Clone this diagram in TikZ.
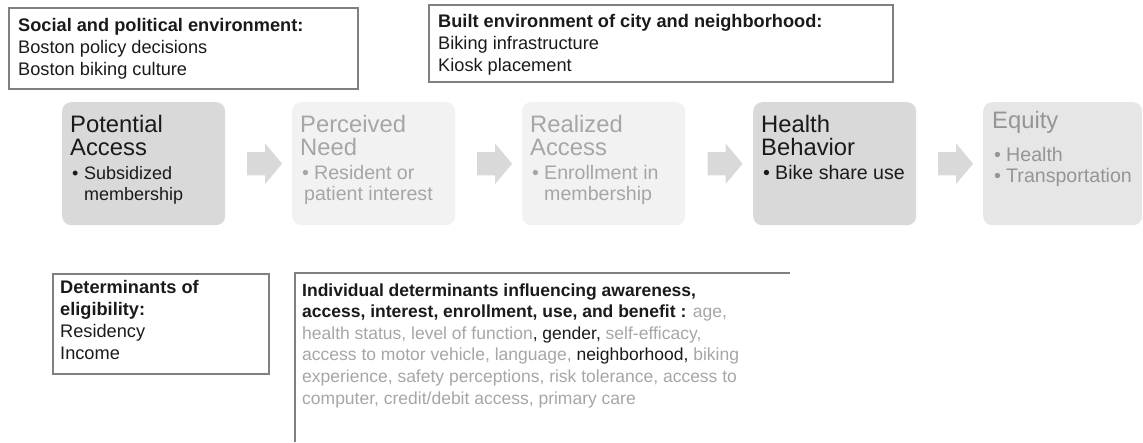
\documentclass[tikz,border=0pt]{standalone}
\usepackage{fontspec}
\setmainfont{Liberation Sans}
\usetikzlibrary{shapes.arrows,calc}
\definecolor{bord}{HTML}{808080}
\definecolor{darkfill}{HTML}{D9D9D9}
\definecolor{lightfill}{HTML}{F2F2F2}
\definecolor{eqfill}{HTML}{E6E6E6}
\definecolor{lighttext}{HTML}{A6A6A6}
\definecolor{eqtext}{HTML}{959595}
\definecolor{arrowfill}{HTML}{D9D9D9}
\definecolor{darktext}{HTML}{1A1A1A}
\newcommand\bitem[1]{\makebox[12pt][l]{\textbullet}#1}
\newcommand\bcont[1]{\hspace*{12pt}#1}
\newcommand\stacklines[1]{\vtop{\let\\\cr\halign{##\hfil\cr#1\crcr}}}
\tikzset{
  infobox/.style={draw=bord, line width=1.5pt, anchor=north west, inner sep=0pt},
  infotext/.style={anchor=base west, inner sep=0pt, text=darktext,
    font={\fontsize{18.2}{22}\selectfont}},
  stagebox/.style={rounded corners=9pt, minimum width=163pt, minimum height=123pt,
    anchor=north west, inner sep=0pt, draw=none},
  stagetitle/.style={anchor=base west, inner sep=0pt,
    font={\fontsize{23.8}{23.5}\selectfont}},
  stagebullet/.style={anchor=base west, inner sep=0pt,
    font={\fontsize{19.6}{21.5}\selectfont}},
  flowarrow/.style={single arrow, fill=arrowfill, draw=none, inner sep=0pt,
    text height=23pt, text depth=0pt, text width=0pt,
    minimum height=35pt, single arrow head extend=8.5pt,
    single arrow tip angle=100},
}
\begin{document}
\begin{tikzpicture}[x=1pt,y=-1pt]
\useasboundingbox (0,0) rectangle (1143,442);

% top information boxes
\node[infobox, minimum width=349pt, minimum height=81pt] (soc) at (8,7) {};
\node[infotext] (soctext) at ($(soc.north west)+(10,24)$)
  {\stacklines{\textbf{Social and political environment:}\\Boston policy decisions\\Boston biking culture}};
\node[infobox, minimum width=464pt, minimum height=77pt] (built) at (428,4) {};
\node[infotext] (builttext) at ($(built.north west)+(10,23)$)
  {\stacklines{\textbf{Built environment of city and neighborhood:}\\Biking infrastructure\\Kiosk placement}};

% stage boxes
\node[stagebox, fill=darkfill] (pa) at (62,102) {};
\node[stagebox, fill=lightfill] (pn) at (292,102) {};
\node[stagebox, fill=lightfill] (pr) at (522,102) {};
\node[stagebox, fill=darkfill] (hb) at (753,102) {};
\node[stagebox, fill=eqfill, minimum width=159pt] (eq) at (983,102) {};

\node[stagetitle, text=darktext] (pat) at ($(pa.north west)+(8,30)$) {\stacklines{Potential\\Access}};
\node[stagebullet, text=darktext, font={\fontsize{18}{21.5}\selectfont}] (pab) at ($(pa.north west)+(10,77)$) {\stacklines{\bitem{Subsidized}\\\bcont{membership}}};
\node[stagetitle, text=lighttext] (pnt) at ($(pn.north west)+(8,30)$) {\stacklines{Perceived\\Need}};
\node[stagebullet, text=lighttext] (pnb) at ($(pn.north west)+(10,77)$) {\stacklines{\bitem{Resident or}\\\hspace*{2pt}patient interest}};
\node[stagetitle, text=lighttext] (prt) at ($(pr.north west)+(8,30)$) {\stacklines{Realized\\Access}};
\node[stagebullet, text=lighttext] (prb) at ($(pr.north west)+(10,77)$) {\stacklines{\bitem{Enrollment in}\\\bcont{membership}}};
\node[stagetitle, text=darktext] (hbt) at ($(hb.north west)+(8,30)$) {\stacklines{Health\\Behavior}};
\node[stagebullet, text=darktext] (hbb) at ($(hb.north west)+(10,77)$) {\bitem{Bike share use}};
\node[stagetitle, text=eqtext] (eqt) at ($(eq.north west)+(9,26)$) {Equity};
\node[stagebullet, text=eqtext] (eqb) at ($(eq.north west)+(11,59)$) {\stacklines{\bitem{Health}\\\bitem{Transportation}}};

% arrows between stages
\node[flowarrow] (a1) at ($(pa.east)!0.5!(pn.west)+(1,0)$) {};
\node[flowarrow] (a2) at ($(pn.east)!0.5!(pr.west)+(1,0)$) {};
\node[flowarrow] (a3) at ($(pr.east)!0.5!(hb.west)+(1,0)$) {};
\node[flowarrow] (a4) at ($(hb.east)!0.5!(eq.west)+(1,0)$) {};

% bottom boxes
\node[infobox, minimum width=216pt, minimum height=100pt] (elig) at (52,273) {};
\node[infotext] (eligtext) at ($(elig.north west)+(8,20)$)
  {\stacklines{\textbf{Determinants of}\\\textbf{eligibility:}\\Residency\\Income}};

\coordinate (indtl) at (295,273);
\coordinate (indtr) at (790,273);
\coordinate (indbl) at (295,442);
\draw[draw=bord, line width=1.5pt] (indtr) -- (indtl) -- (indbl);
\node[infotext, text=lighttext, font={\fontsize{17.5}{21.6}\selectfont}] (indtext) at ($(indtl)+(7,23)$)
  {\stacklines{\textcolor{darktext}{\textbf{Individual determinants influencing awareness,}}\\
   \textcolor{darktext}{\textbf{access, interest, enrollment, use, and benefit :}} age,\\
   health status, level of function\textcolor{darktext}{, gender,} self-efficacy,\\
   access to motor vehicle, language, \textcolor{darktext}{neighborhood,} biking\\
   experience, safety perceptions, risk tolerance, access to\\
   computer, credit/debit access, primary care}};
\end{tikzpicture}
\end{document}
